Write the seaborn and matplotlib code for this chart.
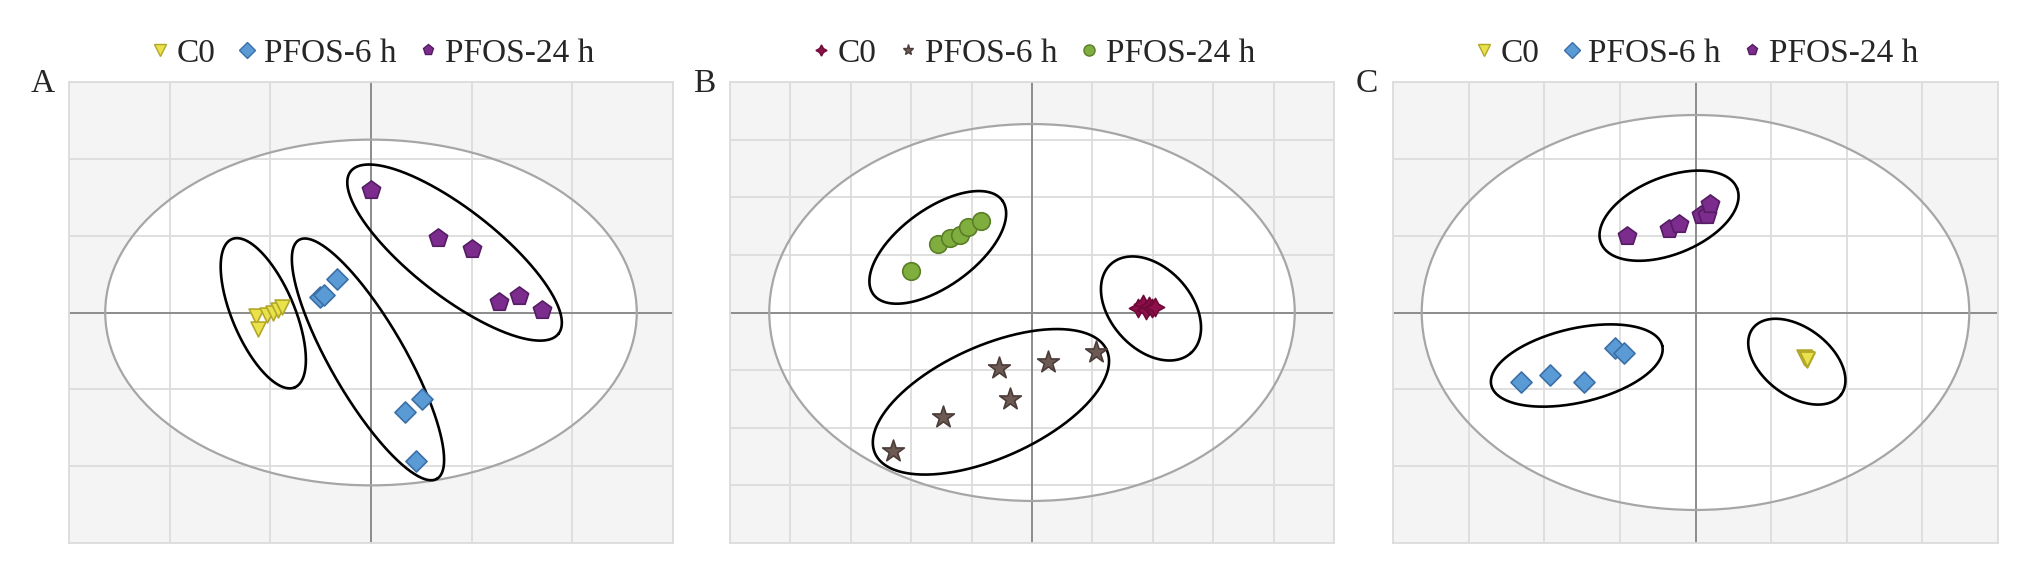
import numpy as np
import pandas as pd
import matplotlib.pyplot as plt
import seaborn as sns
from matplotlib.patches import Ellipse
from matplotlib.lines import Line2D

GROUPS = ["C0", "PFOS-6 h", "PFOS-24 h"]

# Panel A scores
a_c0_x = [-1.14, -1.12, -1.03, -0.97, -0.92, -0.88]
a_c0_y = [-0.05, -0.22, -0.03, 0.00, 0.03, 0.07]
a_6h_x = [-0.51, -0.47, -0.34, 0.34, 0.51, 0.45]
a_6h_y = [0.20, 0.23, 0.43, -1.30, -1.12, -1.93]
a_24h_x = [0.00, 0.67, 1.00, 1.27, 1.47, 1.70]
a_24h_y = [1.60, 0.97, 0.82, 0.14, 0.22, 0.03]

# Panel B scores
b_c0_x = [1.76, 1.83, 1.88, 1.93, 1.98, 2.04]
b_c0_y = [0.08, 0.14, 0.04, 0.12, 0.07, 0.10]
b_6h_x = [-2.30, -1.47, -0.54, -0.36, 0.26, 1.06]
b_6h_y = [-2.40, -1.81, -0.96, -1.50, -0.86, -0.68]
b_24h_x = [-2.00, -1.56, -1.36, -1.20, -1.06, -0.84]
b_24h_y = [0.72, 1.19, 1.29, 1.35, 1.48, 1.58]

# Panel C scores
c_c0_x = [1.44, 1.46, 1.48, 1.45, 1.47]
c_c0_y = [-0.58, -0.60, -0.62, -0.59, -0.61]
c_6h_x = [-2.31, -1.92, -1.47, -1.07, -0.94]
c_6h_y = [-0.91, -0.81, -0.90, -0.46, -0.53]
c_24h_x = [-0.90, -0.35, -0.22, 0.07, 0.15, 0.19]
c_24h_y = [1.00, 1.09, 1.15, 1.27, 1.27, 1.41]

# Hotelling ellipse semi-axes (x, y)
a_t2 = [2.64, 2.25]
b_t2 = [4.35, 3.27]
c_t2 = [3.62, 2.57]

# group ellipses: centre x, centre y, semi-major, semi-minor (x units), angle
a_groups_ell = [(-1.07, -0.01, 0.80, 0.31, -67),
                (-0.03, -0.61, 1.37, 0.37, -60),
                (0.83, 0.78, 1.31, 0.43, -38)]
b_groups_ell = [(1.97, 0.07, 0.99, 0.67, -48),
                (-0.68, -1.55, 2.10, 0.93, 24),
                (-1.56, 1.13, 1.32, 0.64, 36)]
c_groups_ell = [(1.34, -0.64, 0.73, 0.45, -37),
                (-1.57, -0.69, 1.16, 0.49, 13),
                (-0.35, 1.26, 0.97, 0.51, 22)]

# marker styles (marker, face, edge, size)
TRI = ("v", "#E9E24B", "#B3A72A", 115)
DIA = ("D", "#5B9BD5", "#3B6FA8", 115)
PENT = ("p", "#7B2C8C", "#551D63", 190)
STAR4 = ((4, 1, 0), "#8E0F4A", "#6E0A38", 170)
STAR5 = ("*", "#6E5A55", "#4B3C38", 270)
CIRC = ("o", "#80AE3E", "#5A7D28", 160)

W, H = 2026, 564


def scores_frame(xs, ys):
    rows = []
    for g, x, y in zip(GROUPS, xs, ys):
        rows += [{"group": g, "x": xi, "y": yi} for xi, yi in zip(x, y)]
    return pd.DataFrame(rows)


def draw_panel(ax, letter, df, styles, t2, ells, xlim, ylim):
    ax.set_xlim(*xlim)
    ax.set_ylim(*ylim)
    ax.set_facecolor("#F4F4F4")
    ax.set_xticks(np.arange(xlim[0], xlim[1] + 1))
    ax.set_yticks(np.arange(ylim[0], ylim[1] + 1))
    ax.set_axisbelow(True)
    ax.grid(True, color="#DCDCDC", lw=1.3)
    ax.tick_params(length=0, labelbottom=False, labelleft=False)
    for sp in ax.spines.values():
        sp.set_color("#DCDCDC")
        sp.set_linewidth(1.3)

    ax.add_patch(Ellipse((0, 0), 2 * t2[0], 2 * t2[1], facecolor="white",
                         edgecolor="none", zorder=0.2))
    ax.add_patch(Ellipse((0, 0), 2 * t2[0], 2 * t2[1], facecolor="none",
                         edgecolor="#A6A6A6", lw=1.6, zorder=2))
    ax.axhline(0, color="#8C8C8C", lw=1.4, zorder=1.5)
    ax.axvline(0, color="#8C8C8C", lw=1.4, zorder=1.5)

    # screen aspect so group ellipses keep their drawn tilt
    pos = ax.get_position()
    px_x = pos.width * W / (xlim[1] - xlim[0])
    px_y = pos.height * H / (ylim[1] - ylim[0])
    t = np.linspace(0, 2 * np.pi, 300)
    for cx, cy, a, b, ang in ells:
        th = np.radians(ang)
        dx = a * np.cos(t) * np.cos(th) - b * np.sin(t) * np.sin(th)
        dy = a * np.cos(t) * np.sin(th) + b * np.sin(t) * np.cos(th)
        ax.plot(cx + dx, cy + dy * px_x / px_y, color="black", lw=1.9,
                zorder=3)

    handles = []
    for g, (m, fc, ec, s) in zip(GROUPS, styles):
        sub = df[df["group"] == g]
        sns.scatterplot(data=sub, x="x", y="y", marker=m, color=fc,
                        edgecolor=ec, linewidth=1.2, s=s, ax=ax,
                        legend=False, zorder=4)
        handles.append(Line2D([], [], ls="", marker=m, markerfacecolor=fc,
                              markeredgecolor=ec, markersize=8,
                              label=g))
    ax.set_xlabel("")
    ax.set_ylabel("")

    ax.legend(handles=handles, loc="center", bbox_to_anchor=(0.5, 1.062),
              ncol=3, frameon=False, fontsize=24, handlelength=0.7,
              handletextpad=0.15, columnspacing=0.6, borderaxespad=0)
    left_px = pos.x0 * W
    fig.text((left_px - 26) / W, 1 - 92 / H, letter, fontsize=24,
             ha="center", va="baseline")


sns.set_style("white")
plt.rcParams["font.family"] = ["Liberation Serif", "DejaVu Serif"]

fig = plt.figure(figsize=(W / 100, H / 100), dpi=100)
bottom = (H - 543) / H
height = 461 / H
ax_a = fig.add_axes([69 / W, bottom, 604 / W, height])
ax_b = fig.add_axes([730 / W, bottom, 604 / W, height])
ax_c = fig.add_axes([1393 / W, bottom, 605 / W, height])

draw_panel(ax_a, "A", scores_frame([a_c0_x, a_6h_x, a_24h_x],
                                   [a_c0_y, a_6h_y, a_24h_y]),
           [TRI, DIA, PENT], a_t2, a_groups_ell, (-3, 3), (-3, 3))
draw_panel(ax_b, "B", scores_frame([b_c0_x, b_6h_x, b_24h_x],
                                   [b_c0_y, b_6h_y, b_24h_y]),
           [STAR4, STAR5, CIRC], b_t2, b_groups_ell, (-5, 5), (-4, 4))
draw_panel(ax_c, "C", scores_frame([c_c0_x, c_6h_x, c_24h_x],
                                   [c_c0_y, c_6h_y, c_24h_y]),
           [TRI, DIA, PENT], c_t2, c_groups_ell, (-4, 4), (-3, 3))

fig.savefig("out.png", dpi=100)
